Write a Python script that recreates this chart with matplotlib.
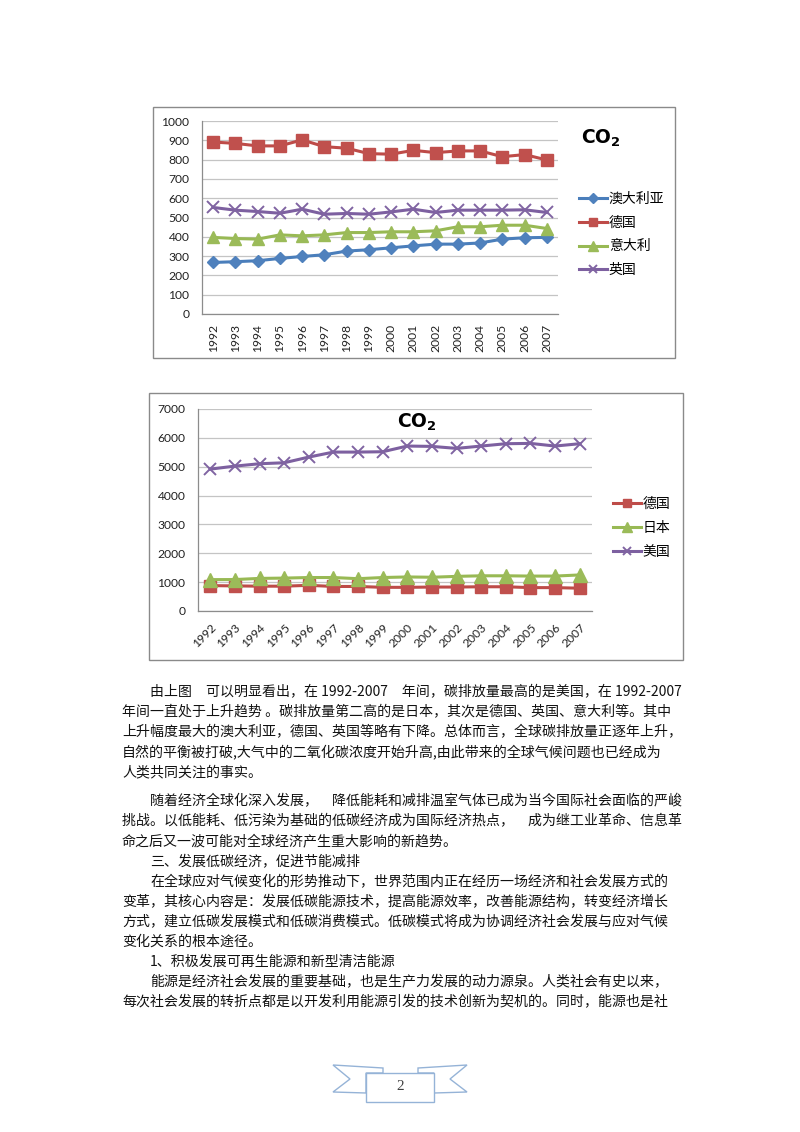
import matplotlib
matplotlib.use("Agg")
import matplotlib.pyplot as plt
from matplotlib.patches import Rectangle, Polygon

# ---------------- data ----------------
years = ["1992", "1993", "1994", "1995", "1996", "1997", "1998", "1999",
         "2000", "2001", "2002", "2003", "2004", "2005", "2006", "2007"]

# chart 1
australia = [267, 271, 276, 288, 298, 307, 326, 333, 343, 353, 362, 362, 368, 388, 395, 397]
germany = [891, 884, 871, 871, 902, 867, 859, 831, 828, 848, 836, 845, 845, 815, 826, 798]
italy = [397, 391, 388, 410, 405, 410, 422, 422, 426, 426, 431, 452, 452, 460, 460, 443]
uk = [552, 538, 531, 522, 543, 517, 521, 517, 529, 543, 526, 538, 538, 538, 540, 526]
labels1 = ["澳大利亚", "德国", "意大利", "英国"]
yticks1 = [0, 100, 200, 300, 400, 500, 600, 700, 800, 900, 1000]

# chart 2
germany2 = [880, 870, 860, 860, 890, 850, 850, 820, 820, 830, 830, 840, 840, 810, 810, 790]
japan = [1087, 1090, 1130, 1140, 1160, 1160, 1120, 1160, 1180, 1170, 1200, 1220, 1220, 1210, 1210, 1250]
usa = [4917, 5021, 5103, 5137, 5334, 5507, 5507, 5519, 5716, 5704, 5635, 5716, 5797, 5808, 5716, 5797]
labels2 = ["德国", "日本", "美国"]
yticks2 = [0, 1000, 2000, 3000, 4000, 5000, 6000, 7000]

title_text = r"$\mathbf{CO_2}$"

body_lines = [
    "由上图　可以明显看出，在 1992-2007　年间，碳排放量最高的是美国，在 1992-2007",
    "年间一直处于上升趋势 。碳排放量第二高的是日本，其次是德国、英国、意大利等。其中",
    "上升幅度最大的澳大利亚，德国、英国等略有下降。总体而言，全球碳排放量正逐年上升，",
    "自然的平衡被打破,大气中的二氧化碳浓度开始升高,由此带来的全球气候问题也已经成为",
    "人类共同关注的事实。",
    "随着经济全球化深入发展，　降低能耗和减排温室气体已成为当今国际社会面临的严峻",
    "挑战。以低能耗、低污染为基础的低碳经济成为国际经济热点，　成为继工业革命、信息革",
    "命之后又一波可能对全球经济产生重大影响的新趋势。",
    "三、发展低碳经济，促进节能减排",
    "在全球应对气候变化的形势推动下，世界范围内正在经历一场经济和社会发展方式的",
    "变革，其核心内容是：发展低碳能源技术，提高能源效率，改善能源结构，转变经济增长",
    "方式，建立低碳发展模式和低碳消费模式。低碳模式将成为协调经济社会发展与应对气候",
    "变化关系的根本途径。",
    "1、积极发展可再生能源和新型清洁能源",
    "能源是经济社会发展的重要基础，也是生产力发展的动力源泉。人类社会有史以来，",
    "每次社会发展的转折点都是以开发利用能源引发的技术创新为契机的。同时，能源也是社",
]
indented = [0, 5, 8, 9, 13, 14]
page_number = "2"

# ---------------- style ----------------
W, H = 800, 1132
BLUE_L, BLUE_M = "#4A7EBB", "#4F81BD"
RED_L, RED_M = "#BE4B48", "#C0504D"
GRN_L, GRN_M = "#98B954", "#9BBB59"
PUR_L, PUR_M = "#7D60A0", "#8064A2"
GRID = "#C4C4C4"
SPINE = "#8C8C8C"
CJK = ["Noto Sans CJK SC", "DejaVu Sans"]
NUM = ["Lato", "DejaVu Sans"]

fig = plt.figure(figsize=(W / 100, H / 100), dpi=100)
fig.patch.set_facecolor("white")

bg = fig.add_axes([0, 0, 1, 1], zorder=0)
bg.set_xlim(0, W)
bg.set_ylim(H, 0)
bg.axis("off")

# chart frames
bg.add_patch(Rectangle((153, 107), 522, 251, fill=False, edgecolor="#8A8A8A", lw=1.0))
bg.add_patch(Rectangle((149, 393), 534, 267, fill=False, edgecolor="#8A8A8A", lw=1.0))


def fig_rect(l, t, r, b):
    return [l / W, 1 - b / H, (r - l) / W, (b - t) / H]


def style_axes(ax, yticks):
    ax.set_facecolor("none")
    ax.set_xlim(-0.5, len(years) - 0.5)
    ax.set_ylim(yticks[0], yticks[-1])
    ax.set_yticks(yticks)
    ax.set_yticklabels([str(v) for v in yticks], fontfamily=NUM, fontsize=8.7, color="#222222")
    ax.grid(axis="y", color=GRID, lw=0.9)
    ax.set_axisbelow(True)
    for s in ["top", "right"]:
        ax.spines[s].set_visible(False)
    for s in ["left", "bottom"]:
        ax.spines[s].set_color(SPINE)
        ax.spines[s].set_linewidth(0.9)
    ax.tick_params(axis="y", length=0, pad=9)
    ax.set_xticks(range(len(years)))


legend_kw = dict(frameon=False, prop={"family": CJK, "size": 10, "weight": "light"},
                 handlelength=2.0, handletextpad=0.15, borderaxespad=0, borderpad=0)

# ---------------- chart 1 ----------------
ax1 = fig.add_axes(fig_rect(202, 121, 558, 314), zorder=1)
style_axes(ax1, yticks1)
ax1.set_xticklabels(years, rotation=90, fontfamily=NUM, fontsize=8.7, color="#222222")
ax1.tick_params(axis="x", length=0, pad=7)
x = range(len(years))
h1 = []
h1 += ax1.plot(x, australia, color=BLUE_L, lw=2.2, marker="D", ms=6.5, mfc=BLUE_M, mec=BLUE_M, clip_on=False)
h1 += ax1.plot(x, germany, color=RED_L, lw=2.2, marker="s", ms=8, mfc=RED_M, mec=RED_M, clip_on=False)
h1 += ax1.plot(x, italy, color=GRN_L, lw=2.2, marker="^", ms=9, mfc=GRN_M, mec=GRN_M, clip_on=False)
h1 += ax1.plot(x, uk, color=PUR_L, lw=2.2, marker="x", ms=8, mew=1.4, mec=PUR_M, clip_on=False)
fig.text(601 / W, 1 - 138 / H, title_text, ha="center", va="center", fontsize=13.5, color="black")
fig.legend(h1, labels1, loc="upper left", bbox_to_anchor=(579 / W, 1 - 192 / H),
           labelspacing=0.70, markerscale=0.75, **legend_kw)

# ---------------- chart 2 ----------------
ax2 = fig.add_axes(fig_rect(198, 409, 592, 611), zorder=1)
style_axes(ax2, yticks2)
ax2.set_xticklabels(years, rotation=45, ha="right", rotation_mode="anchor",
                    fontfamily=NUM, fontsize=8.7, color="#222222")
ax2.tick_params(axis="x", length=0, pad=8)
h2 = []
h2 += ax2.plot(x, germany2, color=RED_L, lw=2.2, marker="s", ms=8.5, mfc=RED_M, mec=RED_M, clip_on=False)
h2 += ax2.plot(x, japan, color=GRN_L, lw=2.2, marker="^", ms=9.5, mfc=GRN_M, mec=GRN_M, clip_on=False)
h2 += ax2.plot(x, usa, color=PUR_L, lw=2.2, marker="x", ms=8.5, mew=1.4, mec=PUR_M, clip_on=False)
fig.text(417 / W, 1 - 422 / H, title_text, ha="center", va="center", fontsize=13.5, color="black")
fig.legend(h2, labels2, loc="upper left", bbox_to_anchor=(613 / W, 1 - 497 / H),
           labelspacing=0.73, markerscale=0.7, **legend_kw)

# ---------------- body text ----------------
left_margin = 122
indent = 28
y0 = 692
step = 20.1
for i, line in enumerate(body_lines):
    y = y0 + i * step + (9 if i >= 5 else 0)
    xpos = left_margin + (indent if i in indented else 0)
    bg.text(xpos, y, line, ha="left", va="center", fontsize=10.05,
            fontfamily=CJK, fontweight="light", color="#111111")

# ---------------- page ribbon ----------------
rib = "#95B3D7"
left_wing = [(333, 1065), (383, 1068), (383, 1073), (366, 1073), (366, 1093), (333, 1092), (350, 1079)]
right_wing = [(467, 1065), (418, 1068), (418, 1073), (434, 1073), (434, 1093), (467, 1092), (450, 1079)]
bg.add_patch(Polygon(left_wing, closed=True, fill=False, edgecolor=rib, lw=1))
bg.add_patch(Polygon(right_wing, closed=True, fill=False, edgecolor=rib, lw=1))
bg.add_patch(Rectangle((366, 1073), 68, 29, facecolor="white", edgecolor=rib, lw=1))
bg.text(400, 1087, page_number, ha="center", va="center", fontsize=11,
        fontfamily=["Liberation Serif"], color="#404040")

fig.savefig("out.png", dpi=100)
